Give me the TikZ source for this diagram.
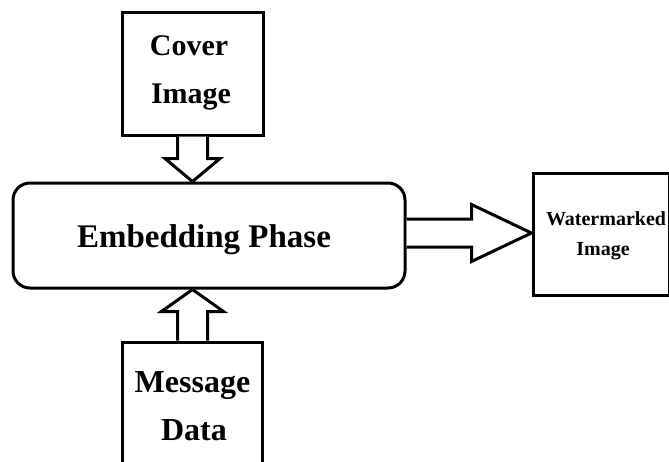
\documentclass[tikz,border=0pt]{standalone}
\usepackage{fontspec}
\setmainfont{Liberation Serif}
\usetikzlibrary{calc}
\tikzset{
  boxshape/.style={draw=black, line width=3pt, rectangle, inner sep=0pt},
  lbl/.style={anchor=base, inner sep=0pt, font=\bfseries},
  blk/.style={draw=black, line width=3pt, line join=miter, fill=white}
}
\begin{document}
\begin{tikzpicture}[x=1pt,y=-1pt]
\useasboundingbox (0,0) rectangle (669,461);
\clip (0,0) rectangle (669,461);
% boxes
\node[boxshape, minimum width=141pt, minimum height=123pt] (cover) at (192.5,73.5) {};
\node[boxshape, rounded corners=17pt, minimum width=392pt, minimum height=105pt] (embed) at (209,235.5) {};
\node[boxshape, minimum width=140pt, minimum height=160pt] (msg) at (192.5,422) {};
\node[boxshape, minimum width=136pt, minimum height=122pt] (wm) at (601,234) {};
% texts
\node[lbl, font=\bfseries\fontsize{30}{36}\selectfont] (covA) at (189,55) {Cover};
\node[lbl, font=\bfseries\fontsize{30}{36}\selectfont] (covB) at (191,103) {Image};
\node[lbl, font=\bfseries\fontsize{33}{40}\selectfont] (embT) at (204,247) {Embedding Phase};
\node[lbl, font=\bfseries\fontsize{32}{38}\selectfont] (msgA) at (192.5,392) {Message};
\node[lbl, font=\bfseries\fontsize{32}{38}\selectfont] (msgB) at (194,440) {Data};
\node[lbl, font=\bfseries\fontsize{20}{24}\selectfont] (wmA) at (606,225) {Watermarked};
\node[lbl, font=\bfseries\fontsize{20}{24}\selectfont] (wmB) at (603,255) {Image};
% down arrow: cover -> embed
\coordinate (d0) at (cover.south);
\coordinate (d1) at (cover.south |- embed.north);
\draw[blk] ($(d0)+(-15,0)$) -- ($(d0)+(-15,22)$) -- ($(d0)+(-27.5,22)$) -- (d1)
  -- ($(d0)+(27.5,22)$) -- ($(d0)+(15,22)$) -- ($(d0)+(15,0)$);
% up arrow: msg -> embed
\coordinate (u0) at (msg.north);
\coordinate (u1) at (msg.north |- embed.south);
\draw[blk] ($(u0)+(-15,0)$) -- ($(u0)+(-15,-29)$) -- ($(u0)+(-31,-29)$) -- (u1)
  -- ($(u0)+(31,-29)$) -- ($(u0)+(15,-29)$) -- ($(u0)+(15,0)$);
% right arrow: embed -> wm
\coordinate (r0) at ($(embed.east)+(0,-2.5)$);
\coordinate (r1) at (wm.west |- r0);
\draw[blk] ($(r0)+(0,-14)$) -- ($(r0)+(65,-14)$) -- ($(r0)+(65,-28.5)$) -- (r1)
  -- ($(r0)+(65,28.5)$) -- ($(r0)+(65,14)$) -- ($(r0)+(0,14)$);
\end{tikzpicture}
\end{document}
